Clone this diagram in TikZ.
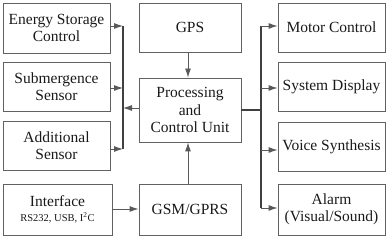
\documentclass[tikz,border=0pt]{standalone}
\usepackage{fontspec}
\setmainfont{Liberation Serif}
\newfontfamily\tnr{Liberation Serif}
\usetikzlibrary{arrows.meta}
\begin{document}
\begin{tikzpicture}[x=1pt,y=-1pt,
  blk/.style={draw=black!62, line width=0.9pt, inner sep=0pt, align=center,
    font=\tnr\fontsize{15.5}{17.5}\selectfont, text=black!90},
  conn/.style={draw=black!65, line width=0.9pt},
  bus/.style={draw=black!75, line width=1.8pt},
  tip/.style={-{Latex[length=9pt,width=6pt]}}]
\useasboundingbox (0,0) rectangle (387,237);
% left column
\node[blk, minimum width=107pt, minimum height=50pt] (esc) at (56.5,28) {Energy Storage\\Control};
\node[blk, minimum width=107pt, minimum height=49pt] (sub) at (56.5,86.5) {Submergence\\Sensor};
\node[blk, minimum width=107pt, minimum height=49pt] (add) at (56.5,145.5) {Additional\\Sensor};
\node[blk, minimum width=109pt, minimum height=51pt] (ifc) at (57.5,209.5) {Interface\\[-2pt]{\fontsize{10.5}{12}\selectfont RS232, USB, I\textsuperscript{2}C}};
% middle column
\node[blk, minimum width=102pt, minimum height=49pt] (gps) at (190,27.5) {GPS};
\node[blk, minimum width=102pt, minimum height=64pt] (pcu) at (190,110) {Processing\\and\\Control Unit};
\node[blk, minimum width=102pt, minimum height=51pt] (gsm) at (190,209.5) {GSM/GPRS};
% right column
\node[blk, minimum width=107pt, minimum height=49pt] (mot) at (331.5,27.5) {Motor Control};
\node[blk, minimum width=107pt, minimum height=49pt] (dis) at (331.5,86.5) {System Display};
\node[blk, minimum width=107pt, minimum height=49pt] (voi) at (331.5,146.5) {Voice Synthesis};
\node[blk, minimum width=107pt, minimum height=51pt] (alm) at (331.5,209.5) {Alarm\\(Visual/Sound)};
% bus coordinates
\coordinate (lb1) at (123,26);
\coordinate (lb2) at (123,149);
\coordinate (rb1) at (261,26);
\coordinate (rb2) at (261,208);
\draw[bus] (lb1) -- (lb2);
\draw[bus] (rb1) -- (rb2);
% left arrows into bus
\draw[conn,tip] (esc.east |- lb1) -- (lb1);
\draw[conn,tip] (sub.east |- 0,88) -- (123,88);
\draw[conn,tip] (add.east |- lb2) -- (lb2);
\draw[conn,tip] (pcu.west |- 0,108) -- (123,108);
% right
\draw[bus] (pcu.east |- 0,110) -- (261,110);
\draw[conn,tip] (rb1) -- (mot.west |- rb1);
\draw[conn,tip] (261,88) -- (dis.west |- 0,88);
\draw[conn,tip] (261,150) -- (voi.west |- 0,150);
\draw[conn,tip] (rb2) -- (alm.west |- rb2);
% vertical
\draw[conn,tip] (gps.south -| 188,0) -- (pcu.north -| 188,0);
\draw[conn,tip] (gsm.north -| 188,0) -- (pcu.south -| 188,0);
\draw[conn,tip] (ifc.east |- 0,209) -- (gsm.west |- 0,209);
\end{tikzpicture}
\end{document}
